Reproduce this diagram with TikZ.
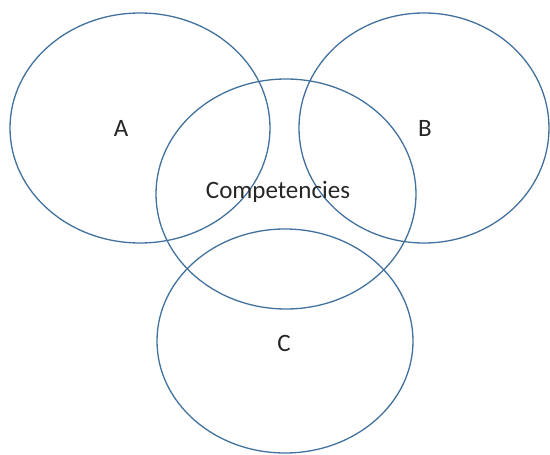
\documentclass[tikz,border=0pt]{standalone}
\usepackage{fontspec}
\setmainfont{Carlito}
\definecolor{ringblue}{HTML}{41719C}
\definecolor{txt}{HTML}{262626}
\begin{document}
\begin{tikzpicture}[x=1pt,y=-1pt,
  ring/.style={draw=ringblue,line width=1.3pt,ellipse shape},
  lbl/.style={text=txt,font=\fontsize{25}{30}\selectfont,inner sep=0pt}]
\useasboundingbox (0,0) rectangle (550,455);
\draw[draw=ringblue,line width=1.3pt] (140,128) ellipse [x radius=130,y radius=115];
\draw[draw=ringblue,line width=1.3pt] (424,128) ellipse [x radius=125,y radius=115];
\draw[draw=ringblue,line width=1.3pt] (286,194) ellipse [x radius=130,y radius=115];
\draw[draw=ringblue,line width=1.3pt] (285,341) ellipse [x radius=128,y radius=112];
\node[lbl] (a) at (121,128) {A};
\node[lbl] (b) at (425,128) {B};
\node[lbl] (comp) at (278,192) {Competencies};
\node[lbl] (c) at (284,343) {C};
\end{tikzpicture}
\end{document}
